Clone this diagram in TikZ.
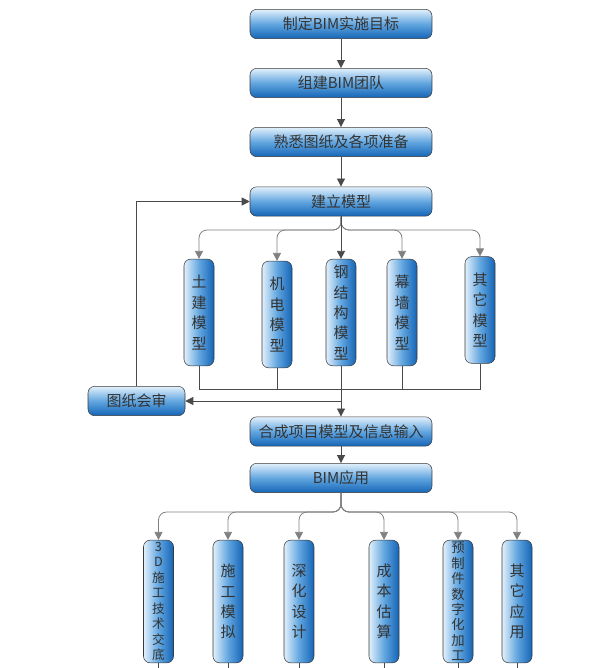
\documentclass[tikz,border=0pt]{standalone}
\usepackage{fontspec}
\newfontfamily\cjk{Noto Sans CJK SC}
\usetikzlibrary{arrows.meta}
\definecolor{boxtop}{HTML}{E2F0FB}
\definecolor{boxmid}{HTML}{62A6E0}
\definecolor{boxbot}{HTML}{1464B6}
\definecolor{boxline}{HTML}{3A3A3A}
\definecolor{boxtext}{HTML}{333333}
\definecolor{linkgray}{HTML}{4A4A4A}
\tikzset{hbox/.style={draw=boxline, rounded corners=5pt, top color=boxtop, bottom color=boxbot, middle color=boxmid, minimum width=136.5pt, minimum height=22pt, inner sep=0pt}}
\tikzset{vbox/.style={draw=boxline, rounded corners=5pt, left color=boxtop, right color=boxbot, middle color=boxmid, minimum width=22.5pt, minimum height=80pt, inner sep=0pt, align=center, font=\cjk\fontsize{11.25}{15.3}\selectfont}}
\tikzset{abox/.style={vbox, minimum height=92pt}}
\tikzset{link/.style={draw=linkgray, line width=0.6pt}}
\tikzset{arrow/.style={link, -{Triangle[length=6pt,width=6pt]}}}
\tikzset{branch/.style={arrow, draw=gray, rounded corners=6pt}}

\begin{document}
\begin{tikzpicture}[x=0.75pt, y=-0.75pt, font=\cjk\fontsize{11.25}{14}\selectfont, text=boxtext]
\useasboundingbox (0,0) rectangle (616,668);

% main steps
\node[hbox] (goal) at (341,24) {制定BIM实施目标};
\node[hbox] (team) at (341,83) {组建BIM团队};
\node[hbox] (prep) at (341,142) {熟悉图纸及各项准备};
\node[hbox] (model) at (341,201.5) {建立模型};

\node[vbox] (civil) at (199,312.5) {土\\建\\模\\型};
\node[vbox] (mep) at (277,314.5) {机\\电\\模\\型};
\node[vbox] (steel) at (341,312.5) {钢\\结\\构\\模\\型};
\node[vbox] (wall) at (402,312.5) {幕\\墙\\模\\型};
\node[vbox] (other) at (480,310) {其\\它\\模\\型};

\node[hbox, minimum width=72.75pt] (review) at (136.5,401) {图纸会审};
\node[hbox] (merge) at (341,431.5) {合成项目模型及信息输入};
\node[hbox] (app) at (341,478) {BIM应用};

% applications
\node[abox, font=\cjk\fontsize{9.5}{11.6}\selectfont] (tech) at (158.5,601.5) {3\\D\\施\\工\\技\\术\\交\\底};
\node[abox] (sim) at (228,601.5) {施\\工\\模\\拟};
\node[abox] (detail) at (299,601.5) {深\\化\\设\\计};
\node[abox] (cost) at (384,601.5) {成\\本\\估\\算};
\node[abox, font=\cjk\fontsize{10}{11.6}\selectfont] (prefab) at (458,601.5) {预\\制\\件\\数\\字\\化\\加\\工};
\node[abox] (misc) at (517,601.5) {其\\它\\应\\用};

\coordinate (split) at (341,230);
\coordinate (join) at (341,389);
\coordinate (fork) at (341,512);
\coordinate (edge) at (0,668);

\draw[arrow] (goal) -- (team);
\draw[arrow] (team) -- (prep);
\draw[arrow] (prep) -- (model);

\foreach \m in {civil,mep,wall,other}
  \draw[branch] (model.south) -- (split) -| (\m.north);
\draw[arrow] (model.south) -- (steel.north);

\draw[link] (civil.south) |- (join);
\draw[link] (other.south) |- (join);
\draw[link] (mep.south) -- (mep.south |- join);
\draw[link] (wall.south) -- (wall.south |- join);
\draw[arrow] (steel.south) -- (merge.north);
\draw[arrow] (steel.south |- review.east) -- (review.east);
\draw[arrow] (review.north) |- (model.west);

\draw[arrow] (merge) -- (app);
\foreach \a in {tech,sim,detail,cost,prefab,misc}{
  \draw[branch] (app.south) -- (fork) -| (\a.north);
  \draw[link] (\a.south) -- (\a.south |- edge);
}

\end{tikzpicture}
\end{document}
